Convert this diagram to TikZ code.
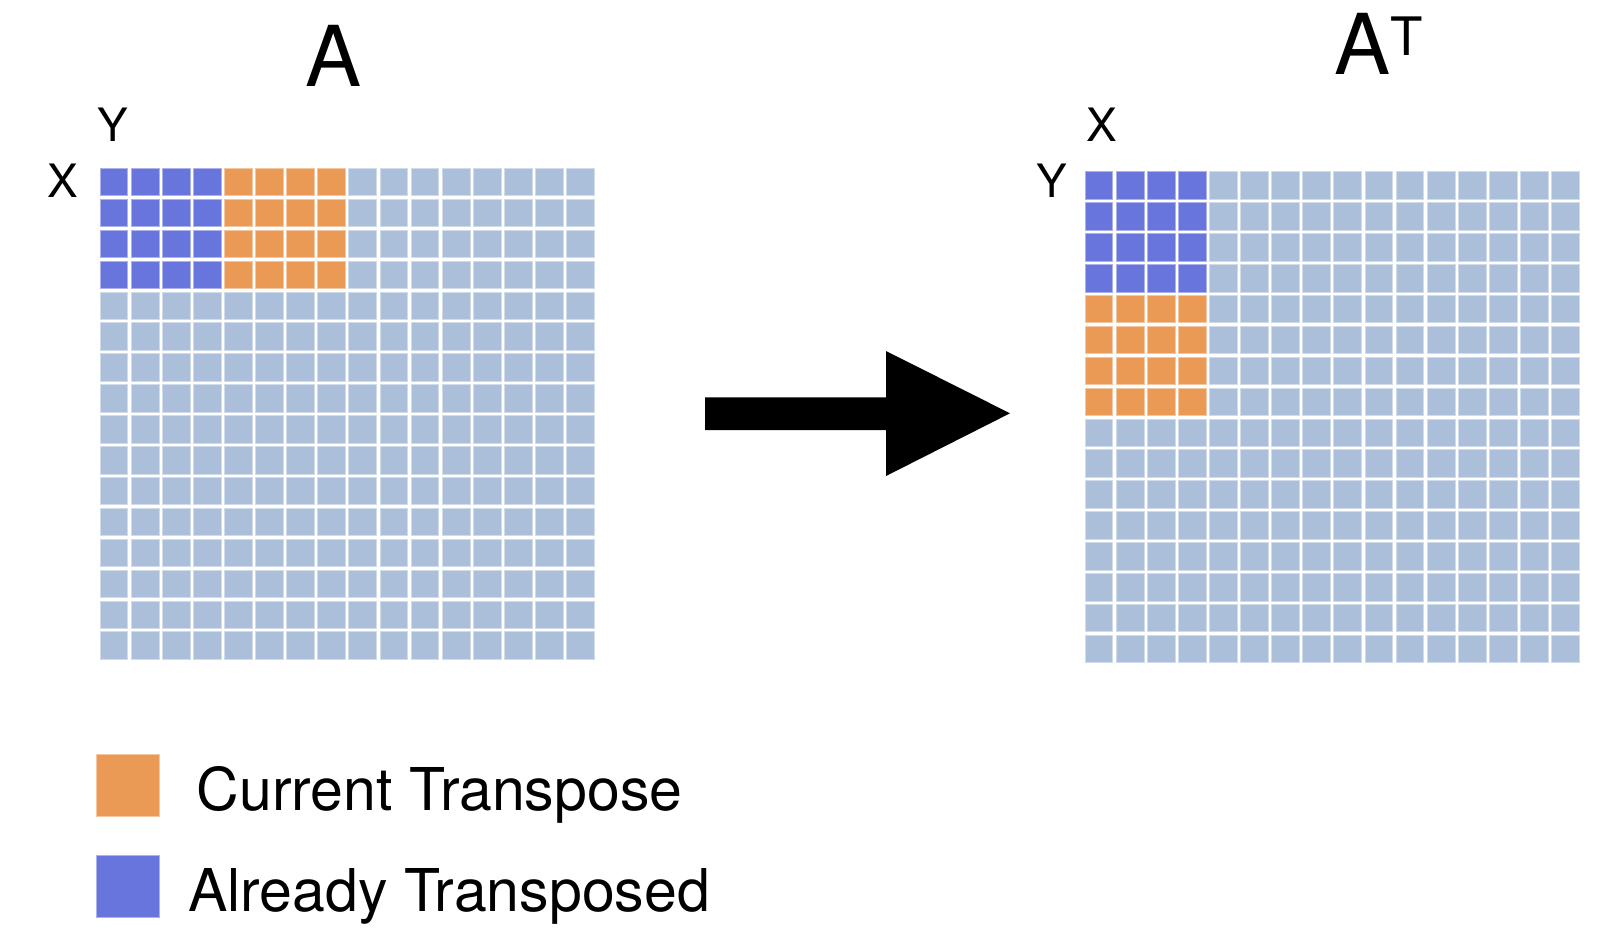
\documentclass[tikz,border=0pt]{standalone}
\usepackage{fontspec}
\setmainfont{TeX Gyre Heros}
\definecolor{cblue}{HTML}{6875DC}
\definecolor{corange}{HTML}{EA9A55}
\definecolor{clight}{HTML}{ABBFDB}
\begin{document}
\begin{tikzpicture}[x=1pt,y=-1pt,
  lightcell/.style={fill=clight,draw=clight!55!white,line width=0.7pt},
  bluecell/.style={fill=cblue,draw=cblue!55!white,line width=0.7pt},
  orangecell/.style={fill=corange,draw=corange!55!white,line width=0.7pt},
  axislabel/.style={anchor=base,inner sep=0pt,font=\fontsize{46}{46}\selectfont},
  title/.style={anchor=base west,inner sep=0pt,font=\fontsize{84}{84}\selectfont},
  legendtext/.style={anchor=base west,inner sep=0pt,font=\fontsize{59}{59}\selectfont},
  arrowshape/.style={fill=black}]
\useasboundingbox[fill=white] (0,0) rectangle (1624,940);

% ---------- left grid A ----------
\foreach \i in {0,...,15}{
  \foreach \j in {0,...,15}{
    \path[lightcell] (100+\i*31.1,168.3+\j*30.9) rectangle ++(27.8,27.5);
  }
}
\foreach \i in {0,...,3}{
  \foreach \j in {0,...,3}{
    \path[bluecell] (100+\i*31.1,168.3+\j*30.9) rectangle ++(27.8,27.5);
    \path[orangecell] (100+\i*31.1+4*31.1,168.3+\j*30.9) rectangle ++(27.8,27.5);
  }
}
% ---------- right grid A^T ----------
\foreach \i in {0,...,15}{
  \foreach \j in {0,...,15}{
    \path[lightcell] (1085+\i*31.1,171.7+\j*30.9) rectangle ++(27.8,27.5);
  }
}
\foreach \i in {0,...,3}{
  \foreach \j in {0,...,3}{
    \path[bluecell] (1085+\i*31.1,171.7+\j*30.9) rectangle ++(27.8,27.5);
    \path[orangecell] (1085+\i*31.1,171.7+\j*30.9+4*30.9) rectangle ++(27.8,27.5);
  }
}

% ---------- titles ----------
\node[title] (tA) at (305,86) {A};
\node[title] (tAT) at (1334,74) {A{\fontsize{53}{53}\selectfont\raisebox{19pt}{T}}};

% ---------- axis labels ----------
\node[axislabel] (lY) at (113,141.7) {Y};
\node[axislabel] (lX) at (63,197) {X};
\node[axislabel] (rX) at (1102,141) {X};
\node[axislabel] (rY) at (1052,197) {Y};

% ---------- arrow ----------
\coordinate (arrowtail) at (705,413.7);
\coordinate (arrowtip) at (1010,413.3);
\fill[arrowshape] (705,397.3) -- (886,397.3) -- (886,351) -- (arrowtip)
  -- (886,476) -- (886,430) -- (705,430) -- cycle;

% ---------- legend ----------
\path[fill=corange,draw=corange!55!white,line width=0.7pt] (96.7,754) rectangle (159.3,816);
\path[fill=cblue,draw=cblue!55!white,line width=0.7pt] (96.7,855.3) rectangle (159.3,917.3);
\node[legendtext] (lgc) at (196.5,810) {Current Transpose};
\node[legendtext] (lga) at (188,911.7) {Already Transposed};
\end{tikzpicture}
\end{document}
